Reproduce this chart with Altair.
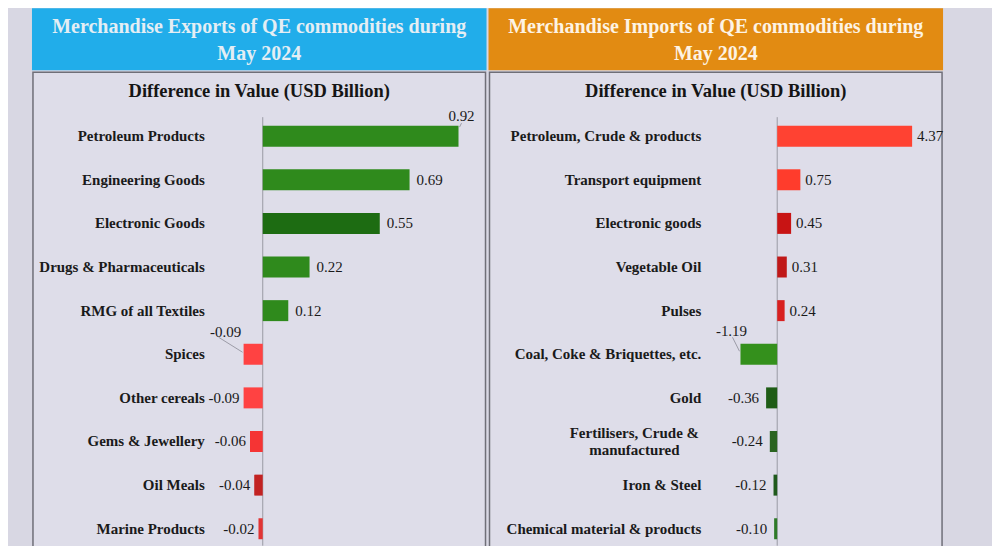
import altair as alt
import pandas as pd

FONT = "Liberation Serif"

# ---------------- data ----------------
exp_items = ["Petroleum Products", "Engineering Goods", "Electronic Goods",
             "Drugs & Pharmaceuticals", "RMG of all Textiles", "Spices",
             "Other cereals", "Gems & Jewellery", "Oil Meals", "Marine Products"]
exp_values = [0.92, 0.69, 0.55, 0.22, 0.12, -0.09, -0.09, -0.06, -0.04, -0.02]

imp_items = ["Petroleum, Crude & products", "Transport equipment", "Electronic goods",
             "Vegetable Oil", "Pulses", "Coal, Coke & Briquettes, etc.", "Gold",
             "Fertilisers, Crude &\nmanufactured", "Iron & Steel",
             "Chemical material & products"]
imp_values = [4.37, 0.75, 0.45, 0.31, 0.24, -1.19, -0.36, -0.24, -0.12, -0.10]

exp_title = "Merchandise Exports of QE commodities during\nMay 2024"
imp_title = "Merchandise Imports of QE commodities during\nMay 2024"
subtitle = "Difference in Value (USD Billion)"

# ---------------- styles ----------------
exp_colors = ["#2f8a1c", "#2f8a1c", "#1d6c12", "#2f8a1c", "#2f8a1c",
              "#ff4242", "#ff4242", "#f53434", "#c22222", "#e23434"]
imp_colors = ["#ff4232", "#ff3c2c", "#c81414", "#c01818", "#d82020",
              "#34901c", "#1f5c16", "#2a6420", "#1f5a1c", "#2e7a28"]

BG = "#d8d7e3"
PANEL = "#dedde9"
W = 455
H = 538
ROW_RANGE = [128, 521]


def panel(items, values, colors, title, head_color, head_text, domain,
          label_x, pos_dx, neg_dx, callouts):
    df = pd.DataFrame({"item": items, "value": values,
                       "label": [f"{v:.2f}" for v in values]})
    df["zero"] = 0.0
    df["lines"] = [n.count("\n") + 1 for n in items]
    yscale = alt.Scale(type="point", domain=items, range=ROW_RANGE, padding=0)
    xs = alt.Scale(domain=domain, nice=False, zero=False)
    X = alt.X("value:Q", scale=xs, axis=None)
    Y = alt.Y("item:N", scale=yscale, axis=None)

    base = alt.Chart(df)
    first = base.transform_filter(alt.FieldEqualPredicate(field="item", equal=items[0]))

    header = first.mark_rect(color=head_color).encode(
        x=alt.value(0), x2=alt.value(W), y=alt.value(0), y2=alt.value(62))
    header_txt = first.mark_text(
        text=title, lineBreak="\n", font=FONT, fontSize=20, fontWeight="bold",
        color=head_text, align="center", baseline="middle", lineHeight=27
    ).encode(x=alt.value(W / 2), y=alt.value(19))
    body = first.mark_rect(fill=PANEL, stroke="#6f6f78", strokeWidth=1.5).encode(
        x=alt.value(1), x2=alt.value(W - 1), y=alt.value(64), y2=alt.value(H + 4))
    sub = first.mark_text(
        text=subtitle, font=FONT, fontSize=18.5, fontWeight="bold", color="#151515",
        align="center", baseline="middle").encode(x=alt.value(W / 2), y=alt.value(83))

    zero = first.mark_rule(color="#9a9aa4", strokeWidth=1).encode(
        x=alt.X("zero:Q", scale=xs, axis=None), y=alt.value(109), y2=alt.value(H))
    bars = base.mark_bar(size=21).encode(
        x=X, x2=alt.X2("zero:Q"), y=Y,
        color=alt.Color("item:N", scale=alt.Scale(domain=items, range=colors), legend=None))
    name_style = dict(font=FONT, fontSize=15, fontWeight="bold", color="#1a1a1a",
                      baseline="middle", lineBreak="\n", lineHeight=18)
    names1 = base.transform_filter("datum.lines == 1").mark_text(
        align="right", **name_style).encode(x=alt.value(label_x), y=Y, text="item:N")
    names2 = base.transform_filter("datum.lines == 2").mark_text(
        align="center", dy=-9, **name_style).encode(
        x=alt.value(label_x - 67), y=Y, text="item:N")

    callout_names = list(callouts.keys())
    cond = " && ".join([f"datum.item !== {repr(n)}" for n in callout_names])
    normal = base.transform_filter(cond)
    pos = normal.transform_filter("datum.value >= 0").mark_text(
        font=FONT, fontSize=15, color="#1a1a1a", align="left", baseline="middle",
        dx=pos_dx).encode(x=X, y=Y, text="label:N")
    neg = normal.transform_filter("datum.value < 0").mark_text(
        font=FONT, fontSize=15, color="#1a1a1a", align="right", baseline="middle",
        dx=neg_dx).encode(x=X, y=Y, text="label:N")

    layers = [header, header_txt, body, sub, zero, bars, names1, names2, pos, neg]
    for name, (tdx, tdy, l1, l2) in callouts.items():
        c = base.transform_filter(alt.FieldEqualPredicate(field="item", equal=name))
        layers.append(c.mark_text(font=FONT, fontSize=15, color="#1a1a1a",
                                  align="center", baseline="middle", dx=tdx, dy=tdy
                                  ).encode(x=X, y=Y, text="label:N"))
        layers.append(c.mark_rule(color="#8a8a95", strokeWidth=0.8,
                                  xOffset=l1[0], yOffset=l1[1],
                                  x2Offset=l2[0], y2Offset=l2[1]).encode(
            x=X, x2=alt.X2("value:Q"), y=Y, y2=alt.Y2("item:N")))

    return alt.layer(*layers).properties(width=W, height=H)


left = panel(exp_items, exp_values, exp_colors, exp_title, "#21adea", "#e4eef4",
             [-231 / 213.0, (W - 231) / 213.0], 173, 7, -4,
             {"Petroleum Products": (3, -20, (1, -9), (3, -13)),
              "Spices": (-18, -22, (-25, -17), (-1, -2))})

right = panel(imp_items, imp_values, imp_colors, imp_title, "#e28b12", "#fdf3e4",
              [-289 / 30.9, (W - 289) / 30.9], 213, 5, -7,
              {"Coal, Coke & Briquettes, etc.": (-9, -23, (-8, -17), (-1, -3))})

chart = alt.hconcat(left, right, spacing=2).resolve_scale(
    x="independent", y="independent", color="independent"
).properties(
    padding={"left": 24, "top": 0, "right": 48, "bottom": 0},
    background=BG,
).configure_view(stroke=None)

chart.save("out.html", embed_options={"renderer": "svg", "actions": False})
